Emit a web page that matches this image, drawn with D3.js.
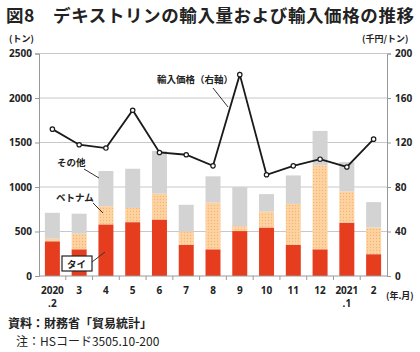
<!DOCTYPE html>
<html>
<head>
  <meta charset="utf-8">
  <title>デキストリンの輸入量および輸入価格の推移</title>
  <script src="https://d3js.org/d3.v7.min.js"></script>
  <style>
  body {
    margin: 0;
    background: white;
  }
  svg text {
    font-family: "Noto Sans CJK JP", "Noto Sans", sans-serif;
    fill: #222;
  }
  </style>
</head>
<body>
  <div id='chart'></div>
  <script>

  // months 2020.2 - 2021.2
  var months = ['2020', '3', '4', '5', '6', '7', '8', '9', '10', '11', '12', '2021', '2']
  var subLabels = ['.2', '', '', '', '', '', '', '', '', '', '', '.1', '']

  // import volume (t)
  var thai    = [390, 300, 580, 605, 635, 350, 300, 505, 545, 350, 300, 600, 245]
  var vietnam = [30, 175, 205, 160, 290, 150, 525, 55, 180, 460, 945, 350, 300]
  var others  = [290, 225, 395, 440, 480, 300, 295, 440, 195, 320, 385, 330, 285]

  // import price (1000 yen/t)
  var price = [132, 118, 115, 149, 111, 109, 99, 181, 91, 99, 105, 98, 123]

  var leftTicks = [0, 500, 1000, 1500, 2000, 2500]
  var rightTicks = [0, 40, 80, 120, 160, 200]

  const width = 420
  const height = 352
  const plotL = 39, plotR = 387, plotT = 53.5, plotB = 276

  var svg = d3.select('#chart')
    .append('svg')
    .attr('width', width)
    .attr('height', height)

  var defs = svg.append('defs')
  var pat = defs.append('pattern')
    .attr('id', 'dots')
    .attr('width', 3)
    .attr('height', 3)
    .attr('patternUnits', 'userSpaceOnUse')
  pat.append('rect').attr('width', 3).attr('height', 3).attr('fill', '#fdd3a4')
  pat.append('circle').attr('cx', 1.5).attr('cy', 1.5).attr('r', 0.7).attr('fill', '#f8b56c')

  var x = d3.scaleBand()
    .domain(d3.range(months.length))
    .range([plotL, plotR])
    .paddingInner(0.44)
    .paddingOuter(0.22)

  var y = d3.scaleLinear().domain([0, 2500]).range([plotB, plotT])
  var y2 = d3.scaleLinear().domain([0, 200]).range([plotB, plotT])

  // title
  svg.append('text')
    .attr('x', 6)
    .attr('y', 22)
    .style('font-size', '17.5px')
    .style('font-weight', 'bold')
    .style('letter-spacing', '0.6px')
    .text('図8　デキストリンの輸入量および輸入価格の推移')

  // gridlines
  svg.append('g')
    .selectAll('line')
    .data(leftTicks.slice(1))
    .enter()
    .append('line')
    .attr('x1', plotL)
    .attr('x2', plotR)
    .attr('y1', d => y(d))
    .attr('y2', d => y(d))
    .style('stroke', '#c8c8c8')
    .style('stroke-width', 1)

  // stacked bars
  var series = [
    {vals: thai, fill: '#e63d1f'},
    {vals: vietnam, fill: 'url(#dots)'},
    {vals: others, fill: '#d3d3d3'}
  ]
  var base = months.map(() => 0)
  series.forEach(function(s){
    var b0 = base.slice()
    svg.append('g')
      .selectAll('rect')
      .data(s.vals)
      .enter()
      .append('rect')
      .attr('x', (d, i) => x(i))
      .attr('width', x.bandwidth())
      .attr('y', (d, i) => y(b0[i] + d))
      .attr('height', (d, i) => y(b0[i]) - y(b0[i] + d))
      .style('fill', s.fill)
    base = base.map((v, i) => v + s.vals[i])
  })

  // left axis
  var yAxis = d3.axisLeft(y).tickValues(leftTicks).tickFormat(d3.format('d')).tickSize(4).tickPadding(3)
  var gl = svg.append('g')
    .attr('transform', 'translate(' + plotL + ',0)')
    .call(yAxis)
  gl.select('.domain').style('stroke', '#999')
  gl.selectAll('.tick line').style('stroke', '#999')
  gl.selectAll('text').style('font-size', '10px').style('font-weight', 'bold')
    .style('font-family', '"Noto Sans", sans-serif')

  // right axis
  var yAxis2 = d3.axisRight(y2).tickValues(rightTicks).tickSize(4).tickPadding(4)
  var gr = svg.append('g')
    .attr('transform', 'translate(' + plotR + ',0)')
    .call(yAxis2)
  gr.select('.domain').style('stroke', '#999')
  gr.selectAll('.tick line').style('stroke', '#999')
  gr.selectAll('text').style('font-size', '10px').style('font-weight', 'bold')
    .style('font-family', '"Noto Sans", sans-serif')

  // x axis
  svg.append('line')
    .attr('x1', plotL).attr('x2', plotR)
    .attr('y1', plotB).attr('y2', plotB)
    .style('stroke', '#999')
  var step = x.step()
  svg.append('g')
    .selectAll('line')
    .data(d3.range(1, months.length))
    .enter()
    .append('line')
    .attr('x1', d => x(d) - (step - x.bandwidth()) / 2)
    .attr('x2', d => x(d) - (step - x.bandwidth()) / 2)
    .attr('y1', plotB)
    .attr('y2', plotB + 4)
    .style('stroke', '#999')

  var xl = svg.append('g')
  xl.selectAll('text.m')
    .data(months)
    .enter()
    .append('text')
    .attr('x', (d, i) => x(i) + x.bandwidth() / 2)
    .attr('y', 294)
    .attr('text-anchor', 'middle')
    .style('font-size', '10px')
    .style('font-weight', 'bold')
    .style('font-family', '"Noto Sans", sans-serif')
    .text(d => d)
  xl.selectAll('text.s')
    .data(subLabels)
    .enter()
    .append('text')
    .attr('x', (d, i) => x(i) + x.bandwidth() / 2)
    .attr('y', 307)
    .attr('text-anchor', 'middle')
    .style('font-size', '10px')
    .style('font-weight', 'bold')
    .style('font-family', '"Noto Sans", sans-serif')
    .text(d => d)

  svg.append('text')
    .attr('x', 386).attr('y', 299)
    .style('font-size', '9px').style('font-weight', 'bold')
    .text('(年.月)')

  // unit labels
  svg.append('text')
    .attr('x', 9).attr('y', 42)
    .style('font-size', '9px').style('font-weight', 'bold')
    .text('(トン)')
  svg.append('text')
    .attr('x', 362).attr('y', 42)
    .style('font-size', '9px').style('font-weight', 'bold')
    .text('(千円/トン)')

  // price line
  var line = d3.line()
    .x((d, i) => x(i) + x.bandwidth() / 2)
    .y(d => y2(d))
  svg.append('path')
    .datum(price)
    .attr('d', line)
    .style('fill', 'none')
    .style('stroke', '#1a1a1a')
    .style('stroke-width', 1.8)
  svg.append('g')
    .selectAll('circle')
    .data(price)
    .enter()
    .append('circle')
    .attr('cx', (d, i) => x(i) + x.bandwidth() / 2)
    .attr('cy', d => y2(d))
    .attr('r', 2.2)
    .style('fill', 'white')
    .style('stroke', '#1a1a1a')
    .style('stroke-width', 1.2)

  // annotations
  function leader(x1, y1, x2, y2){
    svg.append('line')
      .attr('x1', x1).attr('y1', y1).attr('x2', x2).attr('y2', y2)
      .style('stroke', '#333').style('stroke-width', 1)
  }
  function note(tx, ty, t){
    svg.append('text')
      .attr('x', tx).attr('y', ty)
      .style('font-size', '9.5px').style('font-weight', 'bold')
      .text(t)
  }
  note(57, 166, 'その他')
  leader(84, 169, 99, 178)
  note(56, 201, 'ベトナム')
  leader(93, 203, 103, 213)

  svg.append('rect')
    .attr('x', 62).attr('y', 256).attr('width', 30).attr('height', 15)
    .style('fill', 'white').style('stroke', '#222').style('stroke-width', 1.2)
  note(67, 267.5, 'タイ')
  leader(92, 262, 105, 252)

  note(157, 83, '輸入価格（右軸）')
  leader(213, 88, 228, 107)

  // source
  svg.append('text')
    .attr('x', 8).attr('y', 328)
    .style('font-size', '12px').style('font-weight', 'bold')
    .text('資料：財務省「貿易統計」')
  svg.append('text')
    .attr('x', 16).attr('y', 346)
    .style('font-size', '12px')
    .text('注：HSコード3505.10-200')

  </script>
</body>
</html>
